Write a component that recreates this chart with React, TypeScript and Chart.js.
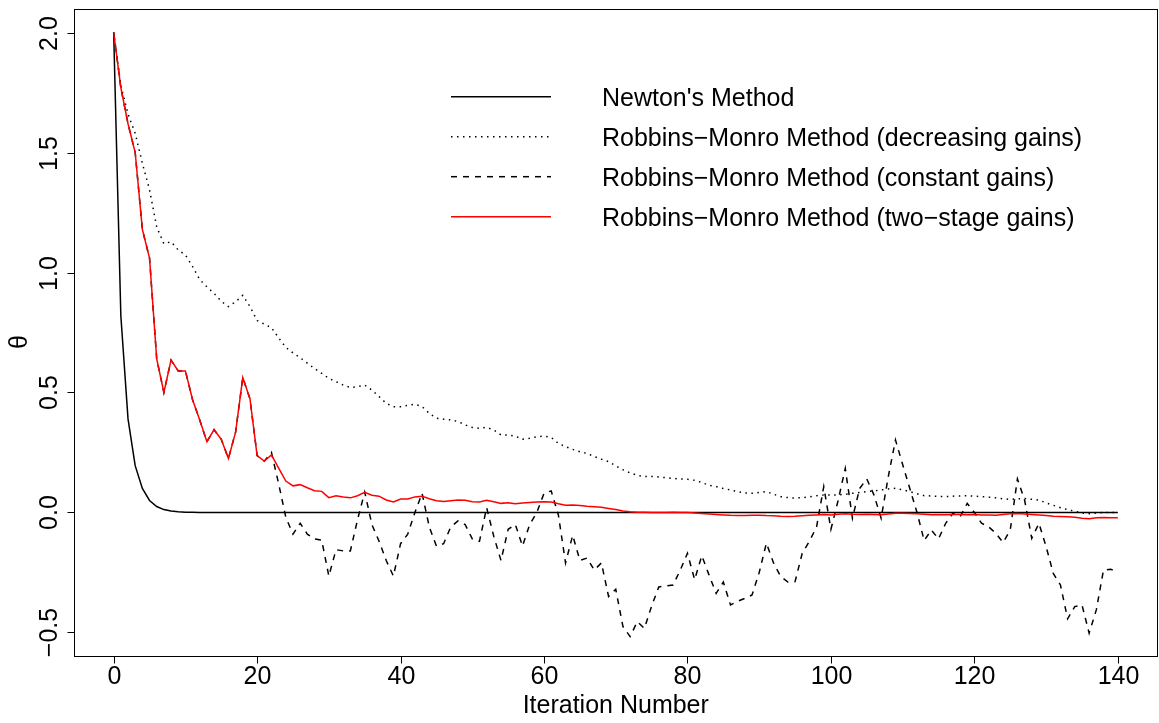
import React, { useEffect, useRef } from "react";
import { Chart, registerables } from "chart.js";

Chart.register(...registerables);

const ITER: number[] = Array.from({ length: 141 }, (_, i) => i);

const NEWTON: number[] = [
  2.0, 0.82, 0.39, 0.195, 0.1, 0.05, 0.025, 0.012, 0.006, 0.003,
  0.0015, 0.0008, 0, 0, 0, 0, 0, 0, 0, 0,
  0, 0, 0, 0, 0, 0, 0, 0, 0, 0,
  0, 0, 0, 0, 0, 0, 0, 0, 0, 0,
  0, 0, 0, 0, 0, 0, 0, 0, 0, 0,
  0, 0, 0, 0, 0, 0, 0, 0, 0, 0,
  0, 0, 0, 0, 0, 0, 0, 0, 0, 0,
  0, 0, 0, 0, 0, 0, 0, 0, 0, 0,
  0, 0, 0, 0, 0, 0, 0, 0, 0, 0,
  0, 0, 0, 0, 0, 0, 0, 0, 0, 0,
  0, 0, 0, 0, 0, 0, 0, 0, 0, 0,
  0, 0, 0, 0, 0, 0, 0, 0, 0, 0,
  0, 0, 0, 0, 0, 0, 0, 0, 0, 0,
  0, 0, 0, 0, 0, 0, 0, 0, 0, 0, 0,
];

const DECREASING: number[] = [
  2.0, 1.78, 1.66, 1.58, 1.455, 1.345, 1.19, 1.12, 1.128, 1.094,
  1.073, 1.025, 0.97, 0.94, 0.913, 0.88, 0.858, 0.878, 0.905, 0.858,
  0.8, 0.785, 0.77, 0.728, 0.688, 0.665, 0.645, 0.622, 0.6, 0.58,
  0.559, 0.545, 0.531, 0.521, 0.524, 0.531, 0.51, 0.483, 0.455, 0.441,
  0.441, 0.446, 0.451, 0.441, 0.413, 0.393, 0.389, 0.386, 0.379, 0.365,
  0.354, 0.351, 0.355, 0.344, 0.323, 0.323, 0.318, 0.305, 0.309, 0.316,
  0.318, 0.313, 0.288, 0.274, 0.263, 0.253, 0.246, 0.233, 0.222, 0.212,
  0.194, 0.178, 0.165, 0.155, 0.15, 0.15, 0.148, 0.145, 0.142, 0.14,
  0.138, 0.134, 0.125, 0.113, 0.108, 0.1, 0.094, 0.087, 0.081, 0.08,
  0.083, 0.087, 0.076, 0.066, 0.062, 0.06, 0.062, 0.065, 0.07, 0.073,
  0.073, 0.073, 0.076, 0.08, 0.083, 0.087, 0.09, 0.094, 0.098, 0.101,
  0.094, 0.087, 0.078, 0.07, 0.069, 0.067, 0.066, 0.068, 0.069, 0.07,
  0.068, 0.066, 0.064, 0.061, 0.057, 0.055, 0.057, 0.058, 0.055, 0.052,
  0.04, 0.03, 0.02, 0.012, 0.005, -0.002, -0.005, -0.002, 0.0, 0.0, 0.0,
];

const CONSTANT: number[] = [
  2.0, 1.77, 1.62, 1.5, 1.18, 1.06, 0.64, 0.5, 0.635, 0.59,
  0.59, 0.47, 0.385, 0.295, 0.345, 0.305, 0.225, 0.335, 0.562, 0.474,
  0.237, 0.214, 0.25, 0.12, -0.02, -0.09, -0.045, -0.09, -0.11, -0.115,
  -0.265, -0.155, -0.16, -0.16, -0.03, 0.085, -0.05, -0.12, -0.2, -0.265,
  -0.13, -0.09, 0.0, 0.08, -0.06, -0.14, -0.13, -0.06, -0.035, -0.05,
  -0.11, -0.12, 0.02, -0.1, -0.2, -0.07, -0.05, -0.14, -0.05, 0.0,
  0.08, 0.09, -0.01, -0.21, -0.095, -0.2, -0.19, -0.24, -0.21, -0.35,
  -0.32, -0.475, -0.517, -0.455, -0.483, -0.39, -0.31, -0.306, -0.302, -0.24,
  -0.17, -0.28, -0.18, -0.26, -0.337, -0.29, -0.385, -0.37, -0.358, -0.344,
  -0.25, -0.128, -0.21, -0.267, -0.29, -0.288, -0.17, -0.12, -0.06, 0.108,
  -0.07, 0.05, 0.184, -0.024, 0.1, 0.14, 0.073, -0.024, 0.15, 0.302,
  0.2, 0.1, 0.0, -0.117, -0.073, -0.11, -0.045, -0.004, -0.018, 0.038,
  0.0, -0.045, -0.06, -0.087, -0.125, -0.073, 0.14, 0.052, -0.108, -0.045,
  -0.142, -0.254, -0.302, -0.443, -0.392, -0.385, -0.503, -0.406, -0.24, -0.237, -0.247,
];

const TWO_STAGE: number[] = [
  2.0, 1.77, 1.62, 1.5, 1.18, 1.06, 0.64, 0.5, 0.635, 0.59,
  0.59, 0.47, 0.385, 0.295, 0.345, 0.305, 0.225, 0.335, 0.562, 0.474,
  0.237, 0.214, 0.24, 0.185, 0.131, 0.111, 0.116, 0.103, 0.091, 0.088,
  0.062, 0.07, 0.065, 0.061, 0.07, 0.084, 0.072, 0.068, 0.052, 0.044,
  0.056, 0.056, 0.065, 0.068, 0.057, 0.049, 0.046, 0.049, 0.052, 0.051,
  0.045, 0.044, 0.051, 0.045, 0.038, 0.041, 0.036, 0.04, 0.042, 0.044,
  0.045, 0.044, 0.036, 0.03, 0.031, 0.029, 0.026, 0.024, 0.022, 0.017,
  0.012, 0.006, 0.003, 0.001, 0.001, 0.0, 0.0, 0.0, 0.001, 0.0,
  0.0, -0.002, -0.004, -0.006, -0.008, -0.01, -0.012, -0.013, -0.013, -0.012,
  -0.011, -0.013, -0.014, -0.016, -0.017, -0.016, -0.014, -0.012, -0.01, -0.008,
  -0.01, -0.007, -0.005, -0.007, -0.008, -0.007, -0.008, -0.009, -0.006, -0.003,
  -0.003, -0.004, -0.005, -0.007, -0.009, -0.009, -0.009, -0.008, -0.008, -0.009,
  -0.008, -0.01, -0.01, -0.011, -0.008, -0.005, -0.004, -0.006, -0.008, -0.01,
  -0.013, -0.016, -0.017, -0.018, -0.02, -0.024, -0.026, -0.022, -0.021, -0.022, -0.022,
];

const SERIES_NAMES: string[] = [
  "Newton's Method",
  "Robbins\u2212Monro Method (decreasing gains)",
  "Robbins\u2212Monro Method (constant gains)",
  "Robbins\u2212Monro Method (two\u2212stage gains)",
];

const X_TICKS: number[] = [0, 20, 40, 60, 80, 100, 120, 140];
const Y_TICKS: number[] = [-0.5, 0.0, 0.5, 1.0, 1.5, 2.0];
const Y_TICK_LABELS: string[] = ["\u22120.5", "0.0", "0.5", "1.0", "1.5", "2.0"];
const X_TITLE = "Iteration Number";
const Y_TITLE = "\u03b8";

const FS = 25;
const FONT = `${FS}px "Liberation Sans", Arial, Helvetica, sans-serif`;

const rPlugin = {
  id: "rStyle",
  afterDraw(chart: any) {
    const ctx = chart.ctx as CanvasRenderingContext2D;
    const ca = chart.chartArea;
    const xs = chart.scales.x;
    const ys = chart.scales.y;
    ctx.save();
    ctx.strokeStyle = "#000";
    ctx.fillStyle = "#000";
    ctx.lineWidth = 1;
    // box
    ctx.strokeRect(Math.round(ca.left) + 0.5, Math.round(ca.top) + 0.5,
      Math.round(ca.right) - Math.round(ca.left) - 1, Math.round(ca.bottom) - Math.round(ca.top));
    const bottom = Math.round(ca.bottom) + 0.5;
    const left = Math.round(ca.left) + 0.5;
    ctx.font = FONT;
    // x ticks
    ctx.textAlign = "center";
    ctx.textBaseline = "alphabetic";
    X_TICKS.forEach((v) => {
      const px = Math.round(xs.getPixelForValue(v)) + 0.5;
      ctx.beginPath();
      ctx.moveTo(px, bottom);
      ctx.lineTo(px, bottom + 7);
      ctx.stroke();
      ctx.fillText(String(v), px, 683.5);
    });
    // y ticks
    Y_TICKS.forEach((v, i) => {
      const py = Math.round(ys.getPixelForValue(v)) + 0.5;
      ctx.beginPath();
      ctx.moveTo(left, py);
      ctx.lineTo(left - 7, py);
      ctx.stroke();
      ctx.save();
      ctx.translate(56.7, py);
      ctx.rotate(-Math.PI / 2);
      ctx.textAlign = "center";
      ctx.fillText(Y_TICK_LABELS[i], 0, 0);
      ctx.restore();
    });
    // titles
    ctx.textAlign = "center";
    ctx.fillText(X_TITLE, (ca.left + ca.right) / 2, 713);
    ctx.save();
    ctx.translate(27, 342);
    ctx.rotate(-Math.PI / 2);
    ctx.fillText(Y_TITLE, 0, 0);
    ctx.restore();
    // legend
    const ds = chart.data.datasets;
    const rows = [96.7, 136.7, 176.7, 216.7];
    ds.forEach((d: any, i: number) => {
      const y = rows[i];
      ctx.save();
      ctx.strokeStyle = d.borderColor;
      ctx.lineWidth = d.borderWidth;
      ctx.setLineDash(d.borderDash || []);
      ctx.lineCap = "butt";
      ctx.beginPath();
      ctx.moveTo(451, y);
      ctx.lineTo(551, y);
      ctx.stroke();
      ctx.restore();
      ctx.textAlign = "left";
      ctx.fillText(d.label, 602, y + 9);
    });
    ctx.restore();
  },
};

export default function App() {
  const ref = useRef<HTMLCanvasElement | null>(null);
  useEffect(() => {
    if (!ref.current) return;
    const mk = (arr: number[]) => arr.map((y, i) => ({ x: ITER[i], y }));
    const chart = new Chart(ref.current, {
      type: "line",
      data: {
        datasets: [
          { label: SERIES_NAMES[0], data: mk(NEWTON), borderColor: "#000000", borderWidth: 1.5, borderDash: [], pointRadius: 0, tension: 0, order: 3 },
          { label: SERIES_NAMES[1], data: mk(DECREASING), borderColor: "#000000", borderWidth: 1.5, borderDash: [1.5, 4.5], pointRadius: 0, tension: 0, order: 2 },
          { label: SERIES_NAMES[2], data: mk(CONSTANT), borderColor: "#000000", borderWidth: 1.5, borderDash: [6, 6], pointRadius: 0, tension: 0, order: 1 },
          { label: SERIES_NAMES[3], data: mk(TWO_STAGE), borderColor: "#FF0000", borderWidth: 1.5, borderDash: [], pointRadius: 0, tension: 0, order: 0 },
        ] as any,
      },
      options: {
        animation: false,
        responsive: false,
        events: [],
        layout: { padding: { left: 73.5, right: 1, top: 9, bottom: 67 } },
        plugins: { legend: { display: false }, tooltip: { enabled: false } },
        scales: {
          x: { type: "linear", display: false, min: -5.6, max: 145.6 },
          y: { type: "linear", display: false, min: -0.598, max: 2.098 },
        },
      },
      plugins: [rPlugin],
    });
    return () => chart.destroy();
  }, []);
  return (
    <div style={{ position: "absolute", left: 0, top: 0, width: 1159, height: 723, background: "#fff" }}>
      <canvas ref={ref} width={1159} height={723} style={{ display: "block" }} />
    </div>
  );
}
